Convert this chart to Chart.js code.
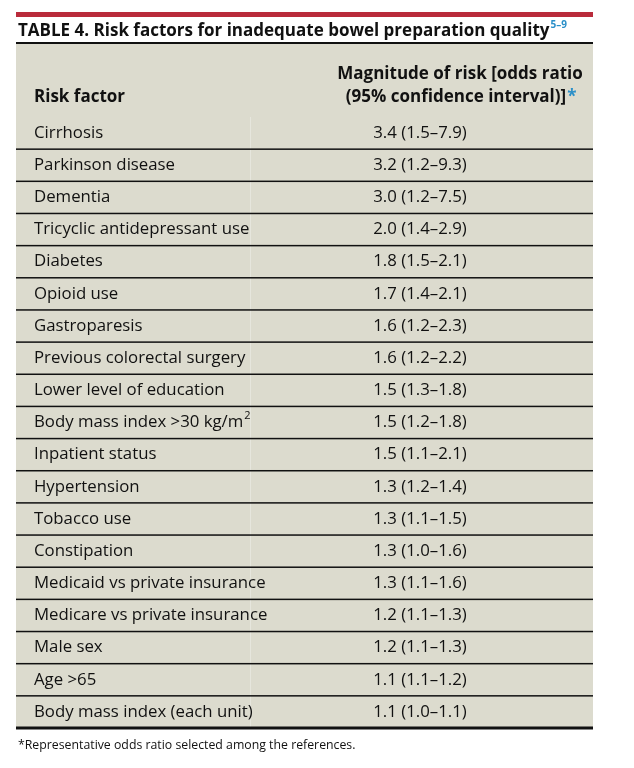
<!DOCTYPE html>
<html><head><meta charset="utf-8">
<script src="https://cdn.jsdelivr.net/npm/chart.js@4"></script>
<style>html,body{margin:0;padding:0;background:#fff}</style>
</head><body>
<canvas id="c" width="634" height="768"></canvas>
<script>
const riskFactors = ["Cirrhosis","Parkinson disease","Dementia","Tricyclic antidepressant use","Diabetes","Opioid use","Gastroparesis","Previous colorectal surgery","Lower level of education","Body mass index >30 kg/m^2","Inpatient status","Hypertension","Tobacco use","Constipation","Medicaid vs private insurance","Medicare vs private insurance","Male sex","Age >65","Body mass index (each unit)"];
const oddsRatio = [3.4,3.2,3.0,2.0,1.8,1.7,1.6,1.6,1.5,1.5,1.5,1.3,1.3,1.3,1.3,1.2,1.2,1.1,1.1];
const ciLow = [1.5,1.2,1.2,1.4,1.5,1.4,1.2,1.2,1.3,1.2,1.1,1.2,1.1,1.0,1.1,1.1,1.1,1.1,1.0];
const ciHigh = [7.9,9.3,7.5,2.9,2.1,2.1,2.3,2.2,1.8,1.8,2.1,1.4,1.5,1.6,1.6,1.3,1.3,1.2,1.1];
const titleText = "TABLE 4. Risk factors for inadequate bowel preparation quality";
const titleRef = "5\u20139";
const headLeft = "Risk factor";
const headRight = ["Magnitude of risk [odds ratio","(95% confidence interval)]"];
const footnote = "*Representative odds ratio selected among the references.";

const F = '"Open Sans", sans-serif';
const tablePlugin = {
  id:'table',
  beforeDraw(chart){
    const ctx = chart.ctx, y = chart.scales.y, L = 16, R = 593, colX = 420, txtX = 34;
    const n = riskFactors.length;
    const half = (y.getPixelForValue(1)-y.getPixelForValue(0))/2;
    const top = y.getPixelForValue(0)-half, bottom = y.getPixelForValue(n-1)+half;
    ctx.save();
    ctx.fillStyle='#fff'; ctx.fillRect(0,0,634,768);
    ctx.fillStyle='#b92b3b'; ctx.fillRect(L,12,R-L,5);
    ctx.fillStyle='#dcdbce'; ctx.fillRect(L,44,R-L,bottom-44);
    ctx.fillStyle='#111'; ctx.fillRect(L,42,R-L,2);
    ctx.textBaseline='alphabetic'; ctx.textAlign='left';
    ctx.font='bold 17px '+F; ctx.fillStyle='#111';
    ctx.fillText(titleText,L+2,36);
    const tw = ctx.measureText(titleText).width;
    ctx.font='bold 10px '+F; ctx.fillStyle='#2a8fc8';
    ctx.fillText(titleRef,L+3+tw,28);
    ctx.font='bold 17px '+F; ctx.fillStyle='#111';
    ctx.fillText(headLeft,txtX,102);
    ctx.textAlign='center';
    ctx.fillText(headRight[0],colX+40,79);
    ctx.fillText(headRight[1],colX+36,102);
    const hw = ctx.measureText(headRight[1]).width;
    ctx.textAlign='left'; ctx.fillStyle='#2a8fc8';
    ctx.fillText('*',colX+36+hw/2+1,102);
    ctx.fillStyle='rgba(255,255,255,0.3)'; ctx.fillRect(250,top,1,bottom-top);
    for(let i=0;i<n;i++){
      const cy = y.getPixelForValue(i);
      ctx.fillStyle='#111'; ctx.textBaseline='middle';
      ctx.font='16.8px '+F; ctx.textAlign='left';
      let lab = riskFactors[i];
      if(lab.endsWith('^2')){
        lab = lab.slice(0,-2); ctx.fillText(lab,txtX,cy);
        const w = ctx.measureText(lab).width;
        ctx.font='11px '+F; ctx.fillText('2',txtX+w+1,cy-7);
        ctx.font='16.8px '+F;
      } else ctx.fillText(lab,txtX,cy);
      ctx.textAlign='center';
      ctx.fillText(oddsRatio[i].toFixed(1)+' ('+ciLow[i].toFixed(1)+'\u2013'+ciHigh[i].toFixed(1)+')',colX,cy);
      const ly = cy+half;
      ctx.fillStyle='#111';
      if(i<n-1) ctx.fillRect(L,ly-0.75,R-L,1.5); else ctx.fillRect(L,ly-1.5,R-L,3);
    }
    ctx.textBaseline='alphabetic'; ctx.textAlign='left';
    ctx.font='12.3px '+F; ctx.fillStyle='#111';
    ctx.fillText(footnote,L+2,bottom+21);
    ctx.restore();
  }
};
new Chart(document.getElementById('c'),{
  type:'bar',
  data:{labels:riskFactors,datasets:[{data:oddsRatio,backgroundColor:'rgba(0,0,0,0)'}]},
  options:{indexAxis:'y',responsive:false,animation:false,
    layout:{padding:{top:117,bottom:40,left:16,right:41}},
    plugins:{legend:{display:false},tooltip:{enabled:false}},
    scales:{x:{display:false,min:0,max:10},y:{display:false}}},
  plugins:[tablePlugin]
});
</script>
</body></html>
